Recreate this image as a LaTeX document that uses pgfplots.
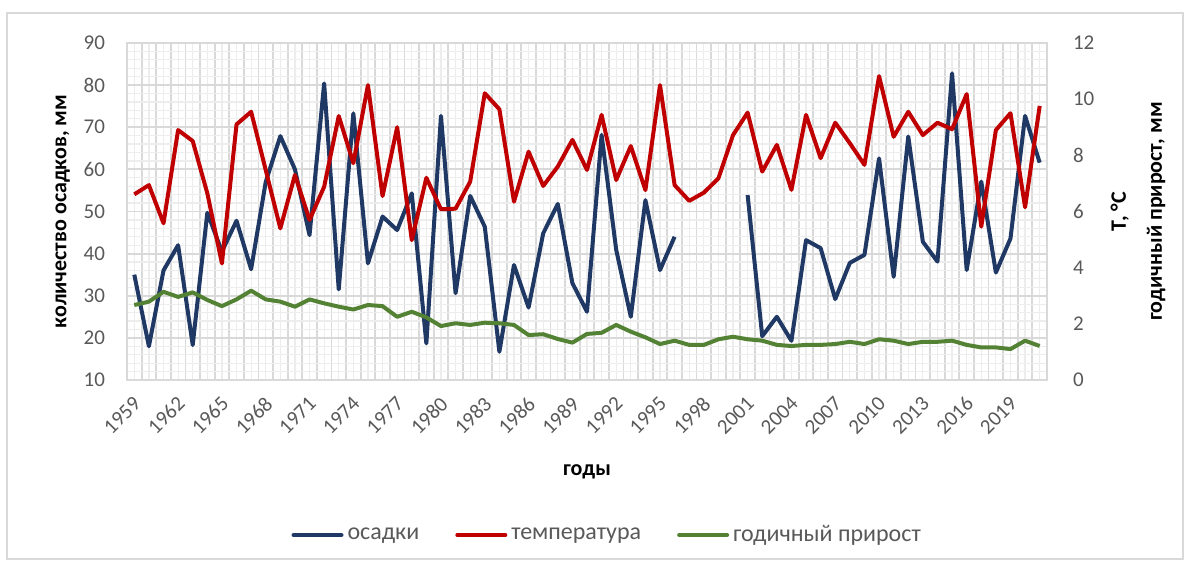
\documentclass[border=0pt]{standalone}
\usepackage{pgfplots}
\pgfplotsset{compat=1.18}
\usepackage{pgfplotstable}
\usepackage{fontspec}
\setmainfont{Carlito}
\definecolor{cblue}{HTML}{203864}
\definecolor{cred}{HTML}{C00000}
\definecolor{cgreen}{HTML}{548235}
\definecolor{tickgray}{HTML}{595959}
\definecolor{gridmaj}{HTML}{D9D9D9}
\definecolor{gridmin}{HTML}{EDEDED}

\pgfplotstableread{
year osadki
1959 35
1960 18
1961 36
1962 42
1963 18.3
1964 49.7
1965 40.5
1966 47.8
1967 36.3
1968 57
1969 67.9
1970 60
1971 44.4
1972 80.4
1973 31.5
1974 73.3
1975 37.7
1976 48.8
1977 45.6
1978 54.3
1979 18.7
1980 72.7
1981 30.6
1982 53.7
1983 46.4
1984 16.7
1985 37.3
1986 27.2
1987 44.8
1988 51.8
1989 33
1990 26.2
1991 68.2
1992 40.9
1993 25
1994 52.7
1995 36.1
1996 44
1997 nan
1998 nan
1999 nan
2000 nan
2001 53.9
2002 20.4
2003 25
2004 19.3
2005 43.2
2006 41.3
2007 29.2
2008 37.8
2009 39.7
2010 62.6
2011 34.5
2012 67.8
2013 42.8
2014 38.1
2015 82.8
2016 36.1
2017 57.1
2018 35.5
2019 43.6
2020 72.7
2021 61.6
}\tabosadki

\pgfplotstableread{
year temp
1959 6.61
1960 6.94
1961 5.58
1962 8.90
1963 8.51
1964 6.65
1965 4.15
1966 9.10
1967 9.55
1968 7.48
1969 5.40
1970 7.30
1971 5.70
1972 6.88
1973 9.40
1974 7.72
1975 10.5
1976 6.55
1977 9.0
1978 4.98
1979 7.2
1980 6.08
1981 6.1
1982 7.06
1983 10.21
1984 9.64
1985 6.35
1986 8.13
1987 6.91
1988 7.6
1989 8.55
1990 7.48
1991 9.44
1992 7.12
1993 8.33
1994 6.76
1995 10.5
1996 6.94
1997 6.38
1998 6.67
1999 7.18
2000 8.72
2001 9.52
2002 7.42
2003 8.37
2004 6.77
2005 9.44
2006 7.9
2007 9.16
2008 8.43
2009 7.66
2010 10.82
2011 8.66
2012 9.55
2013 8.72
2014 9.16
2015 8.93
2016 10.18
2017 5.46
2018 8.9
2019 9.5
2020 6.15
2021 9.76
}\tabtemp

\pgfplotstableread{
year prirost
1959 2.67
1960 2.79
1961 3.14
1962 2.96
1963 3.12
1964 2.85
1965 2.63
1966 2.87
1967 3.18
1968 2.87
1969 2.79
1970 2.61
1971 2.87
1972 2.73
1973 2.61
1974 2.51
1975 2.67
1976 2.63
1977 2.25
1978 2.43
1979 2.23
1980 1.92
1981 2.02
1982 1.96
1983 2.04
1984 2.02
1985 1.96
1986 1.6
1987 1.63
1988 1.46
1989 1.33
1990 1.64
1991 1.68
1992 1.96
1993 1.72
1994 1.52
1995 1.28
1996 1.40
1997 1.25
1998 1.25
1999 1.45
2000 1.54
2001 1.45
2002 1.40
2003 1.25
2004 1.21
2005 1.25
2006 1.25
2007 1.28
2008 1.36
2009 1.28
2010 1.45
2011 1.40
2012 1.28
2013 1.36
2014 1.36
2015 1.40
2016 1.25
2017 1.16
2018 1.16
2019 1.10
2020 1.40
2021 1.21
}\tabprirost

\begin{document}
\begin{tikzpicture}[x=1pt,y=1pt]
\path[use as bounding box] (0,0) rectangle (595,283);
\draw[gridmaj, line width=0.75pt] (3.5,3.5) rectangle (591.5,276.5);
\begin{axis}[
  at={(63.5pt,93pt)}, anchor=south west,
  width=460pt, height=168.5pt, scale only axis,
  xmin=-0.5, xmax=62.5, ymin=10, ymax=90,
  xtick={0,1,...,62},
  xticklabels={1959,{},{},1962,{},{},1965,{},{},1968,{},{},1971,{},{},1974,{},{},1977,{},{},1980,{},{},1983,{},{},1986,{},{},1989,{},{},1992,{},{},1995,{},{},1998,{},{},2001,{},{},2004,{},{},2007,{},{},2010,{},{},2013,{},{},2016,{},{},2019,{},{}},
  minor x tick num=1,
  ytick={10,20,...,90}, minor ytick={12,14,...,88},
  major tick length=0pt, minor tick length=0pt,
  grid=both,
  major x grid style={gridmin, line width=0.6pt},
  minor x grid style={gridmaj, line width=0.9pt},
  major y grid style={gridmaj, line width=0.9pt},
  minor y grid style={gridmin, line width=0.6pt},
  axis line style={gridmaj, line width=0.9pt},
  ytick pos=left,
  /pgf/number format/assume math mode=true,
  ticklabel style={font=\fontsize{10.5}{12}\selectfont, text=tickgray},
  xticklabel style={yshift=-6pt, xshift=-1pt, rotate=45, anchor=north east, inner sep=1pt},
  yticklabel style={xshift=-7.5pt},
  ylabel={количество осадков, мм},
  ylabel style={at={(axis description cs:-0.07,0.5)}, anchor=center, font=\fontsize{11}{13}\selectfont\bfseries},
  xlabel={годы},
  xlabel style={at={(axis description cs:0.5,-0.273)}, anchor=center, font=\fontsize{11}{13}\selectfont\bfseries},
  unbounded coords=jump,
]
\addplot[cblue, line width=2pt, line join=round] table[x expr=\thisrow{year}-1959, y=osadki] {\tabosadki};
\end{axis}
\begin{axis}[
  at={(63.5pt,93pt)}, anchor=south west,
  width=460pt, height=168.5pt, scale only axis,
  xmin=-0.5, xmax=62.5, ymin=0, ymax=12,
  axis x line=none, axis y line*=right,
  axis line style={draw=none},
  ytick={0,2,...,12},
  major tick length=0pt,
  /pgf/number format/assume math mode=true,
  ticklabel style={font=\fontsize{10.5}{12}\selectfont, text=tickgray},
  yticklabel style={xshift=9.5pt},
  ylabel={Т, °С\\[5pt]годичный прирост, мм},
  ylabel style={at={(axis description cs:1.099,0.5)}, anchor=center, align=center, font=\fontsize{11}{13}\selectfont\bfseries},
  legend columns=3,
  legend style={at={(0.523,-0.46)}, anchor=center, draw=none, fill=none,
    font=\fontsize{12}{14}\selectfont, text=tickgray,
    /tikz/every even column/.append style={column sep=16pt}},
  legend image code/.code={\draw[#1, line cap=round] (0pt,0pt) -- (24pt,0pt);},
]
\addlegendimage{cblue, line width=2pt}
\addlegendentry{осадки}
\addplot[cred, line width=2pt, line join=round] table[x expr=\thisrow{year}-1959, y=temp] {\tabtemp};
\addlegendentry{температура}
\addplot[cgreen, line width=2pt, line join=round] table[x expr=\thisrow{year}-1959, y=prirost] {\tabprirost};
\addlegendentry{годичный прирост}
\end{axis}
\end{tikzpicture}
\end{document}
